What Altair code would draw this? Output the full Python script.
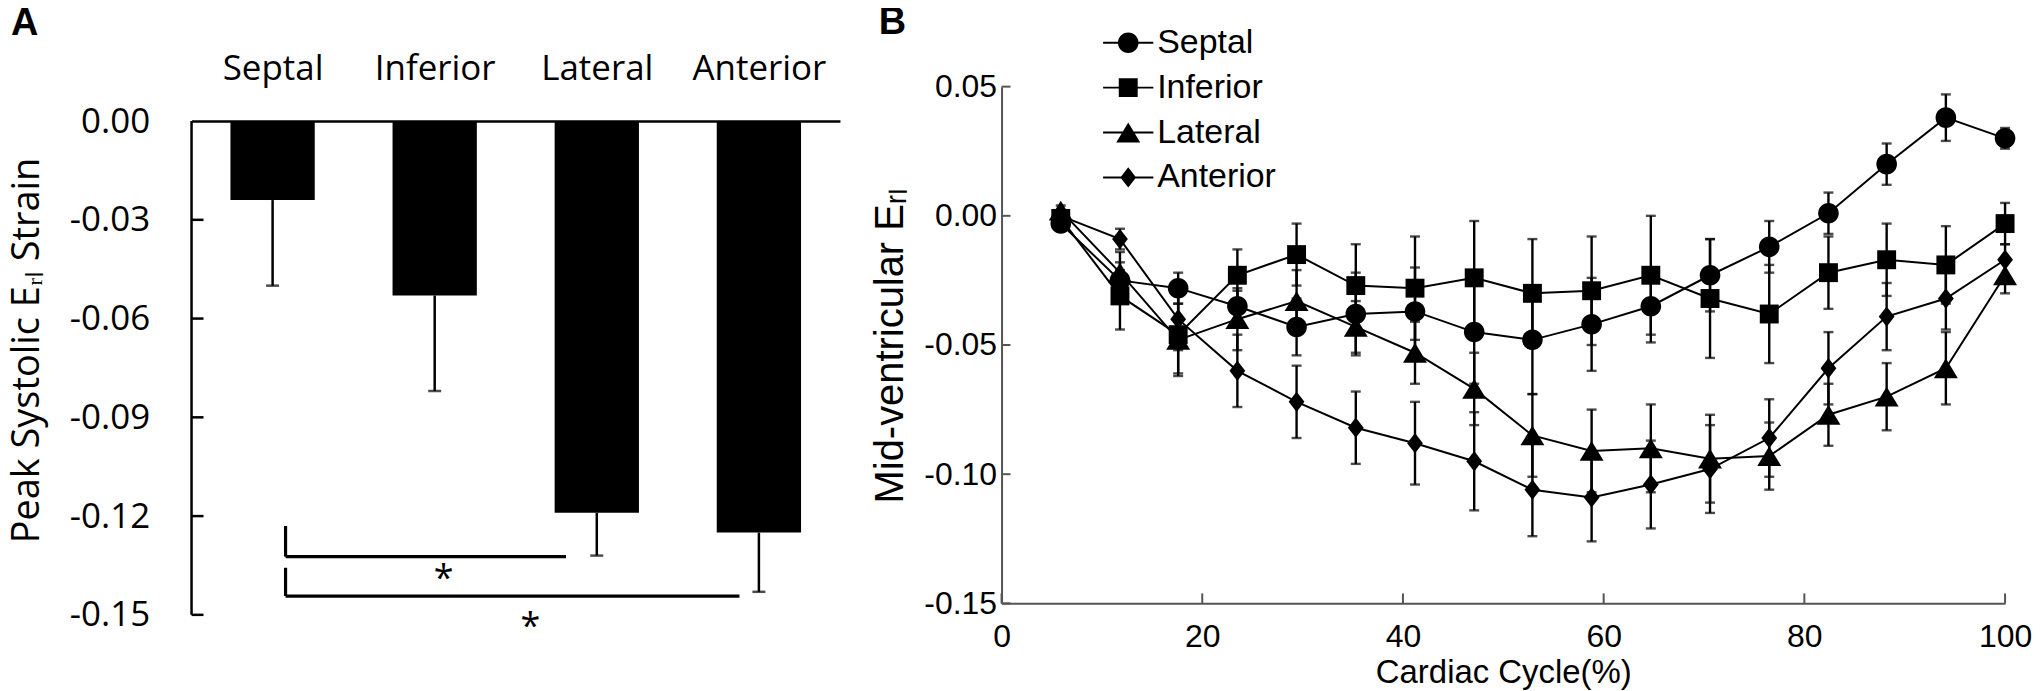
import altair as alt
import pandas as pd

# ---------------- Panel A data ----------------
regions = ["Septal", "Inferior", "Lateral", "Anterior"]
peak_strain = [-0.024, -0.053, -0.119, -0.125]
peak_err = [0.026, 0.029, 0.013, 0.018]
ticks_a = [0.0, -0.03, -0.06, -0.09, -0.12, -0.15]

# significance brackets (from region index -> to region index)
br_from = [0, 0]
br_to = [2, 3]
br_top = [-0.123, -0.1357]
br_line = [-0.1323, -0.1443]
br_end_gap = [0.19, 0.12]
star_y = [-0.1424, -0.157]

# ---------------- Panel B data ----------------
cycle_pct = [5.9, 11.8, 17.6, 23.5, 29.4, 35.3, 41.2, 47.1, 52.9, 58.8, 64.7, 70.6, 76.5, 82.4, 88.2, 94.1, 100]
septal = [-0.003, -0.025, -0.028, -0.035, -0.043, -0.038, -0.037, -0.045, -0.048, -0.042, -0.035, -0.023, -0.012, 0.001, 0.020, 0.038, 0.030]
septal_err = [0.002, 0.004, 0.006, 0.006, 0.011, 0.016, 0.017, 0.020, 0.021, 0.018, 0.014, 0.014, 0.010, 0.008, 0.008, 0.009, 0.004]
inferior = [-0.001, -0.031, -0.046, -0.023, -0.015, -0.027, -0.028, -0.024, -0.030, -0.029, -0.023, -0.032, -0.038, -0.022, -0.017, -0.019, -0.003]
inferior_err = [0.002, 0.013, 0.015, 0.010, 0.012, 0.016, 0.020, 0.022, 0.021, 0.021, 0.023, 0.023, 0.019, 0.014, 0.014, 0.015, 0.008]
lateral = [0.002, -0.022, -0.048, -0.040, -0.033, -0.043, -0.053, -0.067, -0.085, -0.091, -0.090, -0.094, -0.093, -0.077, -0.070, -0.059, -0.023]
lateral_err = [0.002, 0.008, 0.014, 0.012, 0.012, 0.010, 0.012, 0.014, 0.016, 0.016, 0.017, 0.017, 0.013, 0.012, 0.013, 0.014, 0.007]
anterior = [0.000, -0.009, -0.040, -0.060, -0.072, -0.082, -0.088, -0.095, -0.106, -0.109, -0.104, -0.098, -0.086, -0.059, -0.039, -0.032, -0.017]
anterior_err = [0.001, 0.004, 0.012, 0.014, 0.014, 0.014, 0.016, 0.019, 0.018, 0.017, 0.017, 0.017, 0.015, 0.014, 0.013, 0.012, 0.006]
x_ticks_b = [0, 20, 40, 60, 80, 100]
y_ticks_b = [-0.15, -0.10, -0.05, 0.0, 0.05]

# ---------------- styles ----------------
FONT_A = "Open Sans"
FONT_B = "Liberation Sans"
SUB = "\u1d63\u2097"  # subscript r l
BAR_HALF = 0.26

# Panel A plot: 495 px for the data range, plus headroom so both panels share the same top
A_DATA_H = 495
A_HEADROOM = 34.5
A_TOP = 0.15 * A_HEADROOM / A_DATA_H

shape_paths = [
    "M0.86,0A0.86,0.86,0,1,1,-0.86,0A0.86,0.86,0,1,1,0.86,0Z",
    "M-0.79,-0.79H0.79V0.79H-0.79Z",
    "M0,-0.83L1,0.83L-1,0.83Z",
    "M0,-0.85L0.66,0L0,0.85L-0.66,0Z",
]
STUB = "M-2.1,-0.08H2.1V0.08H-2.1Z"
legend_paths = [STUB + p for p in shape_paths]

neg_fmt = "datum.value < 0 ? '-' + format(-datum.value, '.2f') : format(datum.value, '.2f')"
cat_expr = "[" + ",".join("'%s'" % r for r in regions) + "][floor(datum.value)]"

# ================= Panel A =================
dfA = pd.DataFrame({"region": regions, "idx": list(range(len(regions))),
                    "value": peak_strain, "err": peak_err})
baseA = alt.Chart(dfA).transform_calculate(
    pos="datum.idx + 0.5",
    lo="datum.pos - %f" % BAR_HALF,
    hi="datum.pos + %f" % BAR_HALF,
    low="datum.value - datum.err",
)
xA_scale = alt.Scale(domain=[0, len(regions)], nice=False, zero=False)
yA_scale = alt.Scale(domain=[-0.15, A_TOP], nice=False)

xA_axis = alt.Axis(orient="top", offset=-A_HEADROOM, values=[i + 0.5 for i in range(len(regions))],
                   labelExpr=cat_expr, labelFont=FONT_A, labelFontSize=35, labelColor="black",
                   labelPadding=35, labelFlush=False, ticks=False, tickSize=0,
                   domainColor="black", domainWidth=2.5, grid=False, title="")
yA_axis = alt.Axis(values=ticks_a, labelExpr=neg_fmt, labelFont=FONT_A, labelFontSize=35,
                   labelColor="black", labelPadding=42, ticks=False, tickSize=0, domain=False,
                   grid=False, title="Peak Systolic E" + SUB + " Strain",
                   titleFont=FONT_A, titleFontSize=38, titleFontWeight="normal",
                   titleColor="black", titlePadding=23, titleY=264)


def xa(field):
    return alt.X(field, scale=xA_scale, axis=xA_axis)


def ya(field):
    return alt.Y(field, scale=yA_scale, axis=yA_axis)


bars = baseA.mark_bar(color="black").encode(
    x=xa("lo:Q"), x2="hi:Q", y=ya("value:Q"), y2=alt.datum(0))
err_a = baseA.mark_rule(color="black", strokeWidth=2.5).encode(
    x=xa("pos:Q"), y=ya("value:Q"), y2="low:Q")
cap_a = baseA.mark_tick(color="black", orient="horizontal", size=13, thickness=2.5).encode(
    x=xa("pos:Q"), y=ya("low:Q"))
tick_a = alt.Chart(pd.DataFrame({"v": ticks_a[1:]})).mark_rule(color="black", strokeWidth=2.5).encode(
    y=ya("v:Q"), x=alt.value(0), x2=alt.value(12))
domain_a = alt.Chart(pd.DataFrame({"top": [ticks_a[0]], "bot": [ticks_a[-1]]})).mark_rule(
    color="black", strokeWidth=2.5).encode(y=ya("top:Q"), y2="bot:Q", x=alt.value(0))

dfBr = pd.DataFrame({"f": br_from, "t": br_to, "ytop": br_top, "yline": br_line,
                     "gap": br_end_gap, "sy": star_y})
baseBr = alt.Chart(dfBr).transform_calculate(
    xs="datum.f + 0.5 + 0.08",
    xe="datum.t + 0.5 - datum.gap",
    xm="(datum.xs + datum.xe) / 2 + 0.11",
)
br_v = baseBr.mark_rule(color="black", strokeWidth=3.2).encode(
    x=xa("xs:Q"), y=ya("ytop:Q"), y2="yline:Q")
br_h = baseBr.mark_rule(color="black", strokeWidth=3.2).encode(
    x=xa("xs:Q"), x2="xe:Q", y=ya("yline:Q"))
stars = baseBr.mark_text(text="*", font=FONT_A, fontSize=36, color="black",
                         baseline="alphabetic", align="center").encode(
    x=xa("xm:Q"), y=ya("sy:Q"))

panelA = alt.layer(bars, err_a, cap_a, tick_a, domain_a, br_v, br_h, stars).properties(
    width=650, height=A_DATA_H + A_HEADROOM,
    title=alt.Title("A", anchor="start", frame="group", font=FONT_B, fontSize=38,
                    fontWeight="bold", color="black", dx=-181, offset=8.5),
)

# ================= Panel B =================
rows = []
for name, vals, errs in zip(regions, [septal, inferior, lateral, anterior],
                            [septal_err, inferior_err, lateral_err, anterior_err]):
    for cx, v, e in zip(cycle_pct, vals, errs):
        rows.append({"series": name, "cycle": cx, "strain": v, "err": e})
dfB = pd.DataFrame(rows)
baseB = alt.Chart(dfB).transform_calculate(lo="datum.strain - datum.err",
                                           hi="datum.strain + datum.err")

xB_scale = alt.Scale(domain=[0, 100], nice=False)
yB_scale = alt.Scale(domain=[-0.15, 0.05], nice=False)
GRAY = "#555555"
xB_axis = alt.Axis(values=x_ticks_b, format="d", labelFont=FONT_B, labelFontSize=32,
                   labelColor="black", labelPadding=18, labelFlush=False, ticks=False, tickSize=0,
                   domainColor=GRAY, domainWidth=2, grid=False, title="Cardiac Cycle(%)",
                   titleFont=FONT_B, titleFontSize=33, titleFontWeight="normal",
                   titleColor="black", titlePadding=4)
yB_axis = alt.Axis(values=y_ticks_b, labelExpr=neg_fmt, labelFont=FONT_B, labelFontSize=32,
                   labelColor="black", labelPadding=5, ticks=False, tickSize=0, domainColor=GRAY,
                   domainWidth=2, grid=False, title="Mid-ventricular E" + SUB,
                   titleFont=FONT_B, titleFontSize=40, titleFontWeight="normal",
                   titleColor="black", titlePadding=13)


def xb(field):
    return alt.X(field, scale=xB_scale, axis=xB_axis)


def yb(field):
    return alt.Y(field, scale=yB_scale, axis=yB_axis)


err_b = baseB.mark_rule(color="black", strokeWidth=2.4).encode(
    x=xb("cycle:Q"), y=yb("lo:Q"), y2="hi:Q")
cap_lo = baseB.mark_tick(color="black", orient="horizontal", size=10, thickness=2.4).encode(
    x=xb("cycle:Q"), y=yb("lo:Q"))
cap_hi = baseB.mark_tick(color="black", orient="horizontal", size=10, thickness=2.4).encode(
    x=xb("cycle:Q"), y=yb("hi:Q"))
lines = baseB.mark_line(color="black", strokeWidth=2).encode(
    x=xb("cycle:Q"), y=yb("strain:Q"), detail="series:N")
points = baseB.mark_point(filled=True, color="black", opacity=1, size=576).encode(
    x=xb("cycle:Q"), y=yb("strain:Q"),
    shape=alt.Shape("series:N", scale=alt.Scale(domain=regions, range=shape_paths), legend=None),
)
legend_layer = baseB.transform_filter("false").mark_point(
    filled=True, color="black", opacity=1, size=576).encode(
    x=xb("cycle:Q"), y=yb("strain:Q"),
    shape=alt.Shape("series:N", scale=alt.Scale(domain=regions, range=legend_paths),
                    legend=alt.Legend(orient="none", legendX=110, legendY=-61, title=None,
                                      labelFont=FONT_B, labelFontSize=34, labelColor="black",
                                      labelOffset=12, rowPadding=11, padding=0,
                                      symbolSize=576, symbolFillColor="black",
                                      symbolOpacity=1)),
)
tick_bx = alt.Chart(pd.DataFrame({"v": x_ticks_b})).mark_rule(color=GRAY, strokeWidth=2).encode(
    x=xb("v:Q"), y=alt.value(518), y2=alt.value(508))
tick_by = alt.Chart(pd.DataFrame({"v": y_ticks_b})).mark_rule(color=GRAY, strokeWidth=2).encode(
    y=yb("v:Q"), x=alt.value(0), x2=alt.value(9))

panelB = alt.layer(err_b, cap_lo, cap_hi, lines, points, tick_bx, tick_by,
                   legend_layer).resolve_scale(shape="independent").properties(
    width=1006, height=518,
    title=alt.Title("B", anchor="start", frame="group", font=FONT_B, fontSize=38,
                    fontWeight="bold", color="black", dx=-123, offset=-16.5),
)

chart = alt.hconcat(panelA, panelB, spacing=31).properties(
    padding={"left": 0, "top": -5, "right": 0, "bottom": 0}
).configure_view(stroke=None)

chart.save("out.html", embed_options={"renderer": "svg", "actions": False})
